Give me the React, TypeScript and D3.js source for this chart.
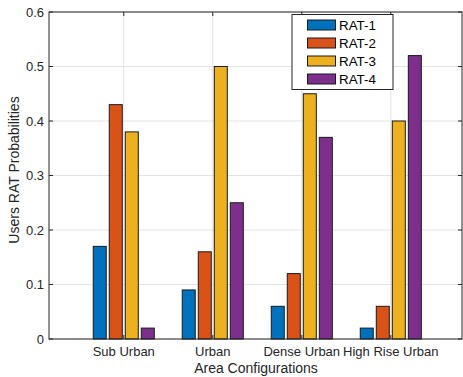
import React, { useEffect, useRef } from 'react';
import * as d3 from 'd3';

const categories = ['Sub Urban', 'Urban', 'Dense Urban', 'High Rise Urban'];
const seriesNames = ['RAT-1', 'RAT-2', 'RAT-3', 'RAT-4'];
const rat1 = [0.17, 0.09, 0.06, 0.02];
const rat2 = [0.43, 0.16, 0.12, 0.06];
const rat3 = [0.38, 0.5, 0.45, 0.4];
const rat4 = [0.02, 0.25, 0.37, 0.52];
const yTicks = [0, 0.1, 0.2, 0.3, 0.4, 0.5, 0.6];
const colors = ['#0072BD', '#D95319', '#EDB120', '#7E2F8E'];

export default function App() {
  const svgRef = useRef<SVGSVGElement>(null);

  const width = 463;
  const height = 377;
  const left = 49;
  const right = 462;
  const top = 12;
  const bottom = 339;
  const font = 'Liberation Sans, Arial, sans-serif';
  const axisColor = '#262626';

  useEffect(() => {
    const svg = d3.select(svgRef.current);
    svg.selectAll('*').remove();

    const series = [rat1, rat2, rat3, rat4];

    // scales
    const x = d3.scaleLinear().domain([0.16, 4.8]).range([left, right]);
    const y = d3.scaleLinear().domain([0, 0.6]).range([bottom, top]);
    const step = 0.18;
    const barW = 0.146;

    svg.append('rect')
      .attr('x', left).attr('y', top)
      .attr('width', right - left).attr('height', bottom - top)
      .attr('fill', '#fff');

    // grid
    svg.append('g')
      .selectAll('line')
      .data(yTicks)
      .enter()
      .append('line')
      .attr('x1', left).attr('x2', right)
      .attr('y1', (d) => y(d)).attr('y2', (d) => y(d))
      .attr('stroke', '#e3e3e3').attr('stroke-width', 1);

    svg.append('g')
      .selectAll('line')
      .data(categories)
      .enter()
      .append('line')
      .attr('x1', (d, i) => x(i + 1)).attr('x2', (d, i) => x(i + 1))
      .attr('y1', top).attr('y2', bottom)
      .attr('stroke', '#e3e3e3').attr('stroke-width', 1);

    // bars
    series.forEach((vals, s) => {
      svg.append('g')
        .selectAll('rect')
        .data(vals)
        .enter()
        .append('rect')
        .attr('x', (d, i) => x(i + 1 + (s - 1.5) * step - barW / 2))
        .attr('y', (d) => y(d))
        .attr('width', x(barW) - x(0))
        .attr('height', (d) => y(0) - y(d))
        .attr('fill', colors[s])
        .attr('stroke', '#1a1a1a')
        .attr('stroke-width', 1);
    });

    // box and ticks
    svg.append('rect')
      .attr('x', left).attr('y', top)
      .attr('width', right - left).attr('height', bottom - top)
      .attr('fill', 'none').attr('stroke', axisColor).attr('stroke-width', 1);

    const tl = 4;
    yTicks.forEach((t) => {
      svg.append('line').attr('x1', left).attr('x2', left + tl)
        .attr('y1', y(t)).attr('y2', y(t)).attr('stroke', axisColor);
      svg.append('line').attr('x1', right).attr('x2', right - tl)
        .attr('y1', y(t)).attr('y2', y(t)).attr('stroke', axisColor);
      svg.append('text')
        .attr('x', left - 5).attr('y', y(t) + 4.5)
        .attr('text-anchor', 'end')
        .attr('font-family', font).attr('font-size', 13)
        .attr('fill', axisColor)
        .text(String(t));
    });

    categories.forEach((c, i) => {
      svg.append('line').attr('x1', x(i + 1)).attr('x2', x(i + 1))
        .attr('y1', bottom).attr('y2', bottom - tl).attr('stroke', axisColor);
      svg.append('line').attr('x1', x(i + 1)).attr('x2', x(i + 1))
        .attr('y1', top).attr('y2', top + tl).attr('stroke', axisColor);
      svg.append('text')
        .attr('x', x(i + 1)).attr('y', bottom + 17)
        .attr('text-anchor', 'middle')
        .attr('font-family', font).attr('font-size', 13)
        .attr('fill', axisColor)
        .text(c);
    });

    // axis titles
    svg.append('text')
      .attr('x', 256).attr('y', 373)
      .attr('text-anchor', 'middle')
      .attr('font-family', font).attr('font-size', 14)
      .attr('fill', axisColor)
      .text('Area Configurations');

    svg.append('text')
      .attr('transform', `translate(19,170) rotate(-90)`)
      .attr('text-anchor', 'middle')
      .attr('font-family', font).attr('font-size', 14)
      .attr('fill', axisColor)
      .text('Users RAT Probabilities');

    // legend
    const lg = svg.append('g');
    lg.append('rect')
      .attr('x', 292).attr('y', 14.5).attr('width', 101).attr('height', 75)
      .attr('fill', '#fff').attr('stroke', axisColor).attr('stroke-width', 1);
    seriesNames.forEach((n, i) => {
      const cy = 25 + i * 18;
      lg.append('rect')
        .attr('x', 307.5).attr('y', cy - 5).attr('width', 28).attr('height', 10)
        .attr('fill', colors[i]).attr('stroke', '#1a1a1a').attr('stroke-width', 1);
      lg.append('text')
        .attr('x', 339).attr('y', cy + 5)
        .attr('font-family', font).attr('font-size', 13.4)
        .attr('fill', '#000')
        .text(n);
    });
  }, []);

  return (
    <svg
      ref={svgRef}
      width={width}
      height={height}
      style={{ position: 'absolute', left: 0, top: 0, background: '#fff' }}
    ></svg>
  );
}
